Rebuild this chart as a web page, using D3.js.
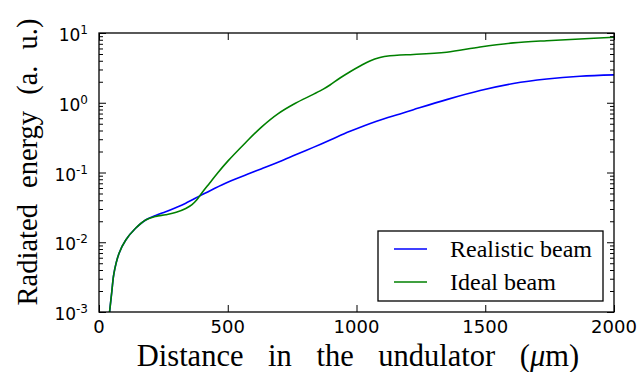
<!DOCTYPE html>
<html>
<head>
<meta charset="utf-8">
<script src="https://cdn.jsdelivr.net/npm/d3@7"></script>
<style>
  html, body { margin: 0; padding: 0; background: #fff; }
  svg { display: block; }
  .tick-label { font-family: "DejaVu Sans", sans-serif; fill: #000; }
  .title { font-family: "Liberation Serif", "DejaVu Serif", serif; fill: #000; }
</style>
</head>
<body>
<svg id="chart" width="640" height="372"></svg>
<script>
// Distance along the undulator (μm) and radiated energy (a. u.)
const realisticDistance = [41, 50, 58, 78, 104, 142, 181, 220, 259, 300, 337, 392, 450, 502, 586, 632, 700, 761, 832, 900, 975, 1078, 1169, 1221, 1350, 1480, 1609, 1739, 1868, 2000];
const realisticEnergy   = [0.0010, 0.0020, 0.00359, 0.00695, 0.01076, 0.01585, 0.02084, 0.02427, 0.02742, 0.0316, 0.0363, 0.04624, 0.05957, 0.07328, 0.0975, 0.1135, 0.1429, 0.1778, 0.2291, 0.2951, 0.3890, 0.5433, 0.6918, 0.7943, 1.109, 1.496, 1.884, 2.188, 2.399, 2.512];

const idealDistance = [41, 50, 58, 78, 104, 142, 181, 220, 259, 300, 337, 360, 380, 400, 430, 460, 502, 567, 632, 696, 761, 832, 871, 897, 936, 975, 1014, 1052, 1091, 1130, 1169, 1221, 1350, 1480, 1609, 1739, 1868, 2000];
const idealEnergy   = [0.0010, 0.0020, 0.00359, 0.00695, 0.01076, 0.01585, 0.02084, 0.02344, 0.02483, 0.02692, 0.03055, 0.03428, 0.04074, 0.05129, 0.07079, 0.09772, 0.1479, 0.2630, 0.4519, 0.6998, 0.9772, 1.318, 1.567, 1.799, 2.265, 2.786, 3.365, 3.981, 4.446, 4.710, 4.842, 4.920, 5.309, 6.310, 7.211, 7.762, 8.204, 8.710];

const seriesNames  = ["Realistic beam", "Ideal beam"];
const seriesColors = ["#0000ff", "#008000"];

const xTicks = [0, 500, 1000, 1500, 2000];
const yTickExponents = [-3, -2, -1, 0, 1];

const W = 640, H = 372;
const margin = { left: 99, right: 26, top: 33, bottom: 60 };

const svg = d3.select("#chart");

const x = d3.scaleLinear().domain([0, 2000]).range([margin.left, W - margin.right]);
const y = d3.scaleLog().domain([1e-3, 10]).range([H - margin.bottom, margin.top]);

const minorValues = [];
for (let e = -3; e < 1; e++) {
  for (let m = 2; m <= 9; m++) minorValues.push(m * Math.pow(10, e));
}
const majorValues = yTickExponents.map(e => Math.pow(10, e));

// Curves, clipped to the plotting area
svg.append("clipPath").attr("id", "plot-clip")
  .append("rect")
  .attr("x", margin.left).attr("y", margin.top)
  .attr("width", W - margin.left - margin.right)
  .attr("height", H - margin.top - margin.bottom);

const series = [
  { name: seriesNames[0], color: seriesColors[0], pts: realisticDistance.map((d, i) => [d, realisticEnergy[i]]) },
  { name: seriesNames[1], color: seriesColors[1], pts: idealDistance.map((d, i) => [d, idealEnergy[i]]) }
];

const line = d3.line()
  .x(d => x(d[0]))
  .y(d => y(d[1]))
  .curve(d3.curveCatmullRom.alpha(0.5));

const plot = svg.append("g").attr("clip-path", "url(#plot-clip)");
series.forEach(s => {
  plot.append("path")
    .datum(s.pts)
    .attr("fill", "none")
    .attr("stroke", s.color)
    .attr("stroke-width", 1.6)
    .attr("d", line);
});

// Axes: ticks point inward on all four sides
function styleAxis(g) {
  g.select(".domain").remove();
  g.selectAll(".tick line").attr("stroke", "#000").attr("stroke-width", 1);
  g.selectAll(".tick text").remove();
}

const bottom = H - margin.bottom, right = W - margin.right;

svg.append("g").attr("transform", `translate(0,${bottom})`)
  .call(d3.axisBottom(x).tickValues(xTicks).tickSize(-7)).call(styleAxis);
svg.append("g").attr("transform", `translate(0,${margin.top})`)
  .call(d3.axisTop(x).tickValues(xTicks).tickSize(-7)).call(styleAxis);

svg.append("g").attr("transform", `translate(${margin.left},0)`)
  .call(d3.axisLeft(y).tickValues(majorValues).tickSize(-7)).call(styleAxis);
svg.append("g").attr("transform", `translate(${margin.left},0)`)
  .call(d3.axisLeft(y).tickValues(minorValues).tickSize(-4)).call(styleAxis);
svg.append("g").attr("transform", `translate(${right},0)`)
  .call(d3.axisRight(y).tickValues(majorValues).tickSize(-7)).call(styleAxis);
svg.append("g").attr("transform", `translate(${right},0)`)
  .call(d3.axisRight(y).tickValues(minorValues).tickSize(-4)).call(styleAxis);

// Frame
svg.append("rect")
  .attr("x", margin.left).attr("y", margin.top)
  .attr("width", right - margin.left).attr("height", bottom - margin.top)
  .attr("fill", "none").attr("stroke", "#000").attr("stroke-width", 1.3);

// X tick labels
svg.append("g").selectAll("text").data(xTicks).join("text")
  .attr("class", "tick-label")
  .attr("x", d => x(d)).attr("y", bottom + 21)
  .attr("text-anchor", "middle")
  .attr("font-size", 18)
  .text(d => d);

// Y tick labels: 10 with a raised exponent
const yl = svg.append("g").selectAll("text").data(yTickExponents).join("text")
  .attr("class", "tick-label")
  .attr("x", margin.left - 11)
  .attr("y", d => y(Math.pow(10, d)) + 8)
  .attr("text-anchor", "end")
  .attr("font-size", 17);
yl.append("tspan").text("10");
yl.append("tspan").attr("dy", -7).attr("font-size", 12).text(d => d < 0 ? "-" + (-d) : String(d));

// Axis titles
svg.append("text").attr("class", "title")
  .attr("x", 358).attr("y", 366)
  .attr("text-anchor", "middle")
  .attr("font-size", 30.5)
  .attr("word-spacing", 17)
  .html('Distance in the undulator (<tspan font-style="italic">μ</tspan>m)');

svg.append("text").attr("class", "title")
  .attr("transform", `translate(37,162) rotate(-90)`)
  .attr("text-anchor", "middle")
  .attr("font-size", 28.5)
  .attr("word-spacing", 9)
  .text("Radiated energy (a. u.)");

// Legend
const lg = svg.append("g");
lg.append("rect")
  .attr("x", 378).attr("y", 231).attr("width", 225).attr("height", 70)
  .attr("fill", "#fff").attr("stroke", "#000").attr("stroke-width", 1.3);
series.forEach((s, i) => {
  const ly = 249 + i * 33;
  lg.append("line")
    .attr("x1", 394).attr("x2", 427).attr("y1", ly).attr("y2", ly)
    .attr("stroke", s.color).attr("stroke-width", 1.6);
  lg.append("text").attr("class", "title")
    .attr("x", 450).attr("y", ly + 7.5)
    .attr("font-size", 24)
    .text(s.name);
});
</script>
</body>
</html>
